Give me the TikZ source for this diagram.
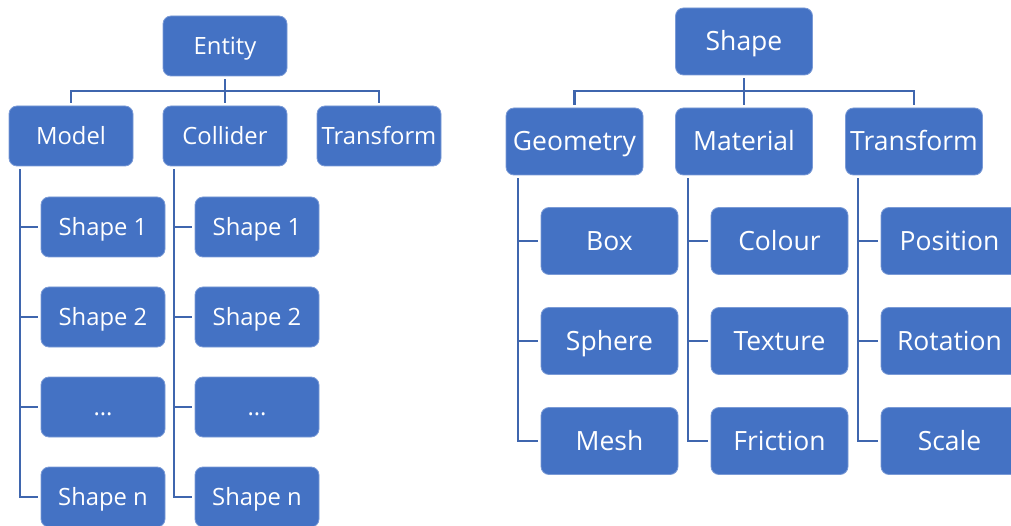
\documentclass[tikz,border=0pt]{standalone}
\usepackage{fontspec}
\setmainfont{Open Sans}
\usetikzlibrary{positioning, calc}
\definecolor{boxblue}{HTML}{4472C4}
\definecolor{boxedge}{HTML}{7A9AD6}
\definecolor{linkblue}{HTML}{3F66AE}

\begin{document}
\begin{tikzpicture}[
	x=1pt, y=-1pt,
	item/.style={draw=boxedge, line width=0.8pt, fill=boxblue, rounded corners=8pt, text=white, inner sep=0pt, align=center, text depth=0pt},
	small/.style={item, minimum width=124pt, minimum height=60pt, text height=17pt, font=\fontsize{23.8}{28}\selectfont},
	big/.style={item, minimum width=137pt, minimum height=67pt, text height=18.9pt, font=\fontsize{26.5}{31}\selectfont},
	tree/.style={draw=linkblue, line width=2.2pt, shorten <=3pt, shorten >=3pt},
	rail/.style={draw=linkblue, line width=2.2pt, shorten <=3pt, shorten >=3pt}
	]
	
	\useasboundingbox (0,0) rectangle (1011,526);
	
	% ==================================================
	% Left tree: Entity
	% ==================================================
	\node[small] (entity) at (225,46) {Entity};
	
	\node[small] (model)    at (71,136)  {Model};
	\node[small] (collider) at (225,136) {Collider};
	\node[small] (etrans)   at (379,136) {Transform};
	
	\draw[tree] (entity.south) -- ++(0,15) -| (model.north);
	\draw[tree] (entity.south) -- (collider.north);
	\draw[tree] (entity.south) -- ++(0,15) -| (etrans.north);
	
	% shapes of the model
	\node[small] (m1) at (103,227) {Shape 1};
	\node[small] (m2) at (103,317) {Shape 2};
	\node[small] (m3) at (103,407) {...};
	\node[small] (m4) at (103,497) {Shape n};
	
	\coordinate (mrail) at (20,0);
	\draw[rail] (model.south -| mrail) |- (m4.west);
	\draw[rail, shorten <=0pt] (m1.west -| mrail) -- (m1.west);
	\draw[rail, shorten <=0pt] (m2.west -| mrail) -- (m2.west);
	\draw[rail, shorten <=0pt] (m3.west -| mrail) -- (m3.west);
	
	% shapes of the collider
	\node[small] (c1) at (257,227) {Shape 1};
	\node[small] (c2) at (257,317) {Shape 2};
	\node[small] (c3) at (257,407) {...};
	\node[small] (c4) at (257,497) {Shape n};
	
	\coordinate (crail) at (174,0);
	\draw[rail] (collider.south -| crail) |- (c4.west);
	\draw[rail, shorten <=0pt] (c1.west -| crail) -- (c1.west);
	\draw[rail, shorten <=0pt] (c2.west -| crail) -- (c2.west);
	\draw[rail, shorten <=0pt] (c3.west -| crail) -- (c3.west);
	
	% ==================================================
	% Right tree: Shape
	% ==================================================
	\node[big] (shape) at (744,41.5) {Shape};
	
	\node[big] (geometry) at (574.5,141.5) {Geometry};
	\node[big] (material) at (744,141.5)   {Material};
	\node[big] (strans)   at (914,141.5)   {Transform};
	
	\draw[tree] (shape.south) -- ++(0,16) -| (geometry.north);
	\draw[tree] (shape.south) -- (material.north);
	\draw[tree] (shape.south) -- ++(0,16) -| (strans.north);
	
	% geometry
	\node[big] (g1) at (609.5,241) {Box};
	\node[big] (g2) at (609.5,341) {Sphere};
	\node[big] (g3) at (609.5,441) {Mesh};
	
	\coordinate (grail) at (518,0);
	\draw[rail] (geometry.south -| grail) |- (g3.west);
	\draw[rail, shorten <=0pt] (g1.west -| grail) -- (g1.west);
	\draw[rail, shorten <=0pt] (g2.west -| grail) -- (g2.west);
	
	% material
	\node[big] (a1) at (779.5,241) {Colour};
	\node[big] (a2) at (779.5,341) {Texture};
	\node[big] (a3) at (779.5,441) {Friction};
	
	\coordinate (arail) at (688,0);
	\draw[rail] (material.south -| arail) |- (a3.west);
	\draw[rail, shorten <=0pt] (a1.west -| arail) -- (a1.west);
	\draw[rail, shorten <=0pt] (a2.west -| arail) -- (a2.west);
	
	% transform
	\node[big] (t1) at (949.5,241) {Position};
	\node[big] (t2) at (949.5,341) {Rotation};
	\node[big] (t3) at (949.5,441) {Scale};
	
	\coordinate (trail) at (858,0);
	\draw[rail] (strans.south -| trail) |- (t3.west);
	\draw[rail, shorten <=0pt] (t1.west -| trail) -- (t1.west);
	\draw[rail, shorten <=0pt] (t2.west -| trail) -- (t2.west);
	
\end{tikzpicture}
\end{document}
